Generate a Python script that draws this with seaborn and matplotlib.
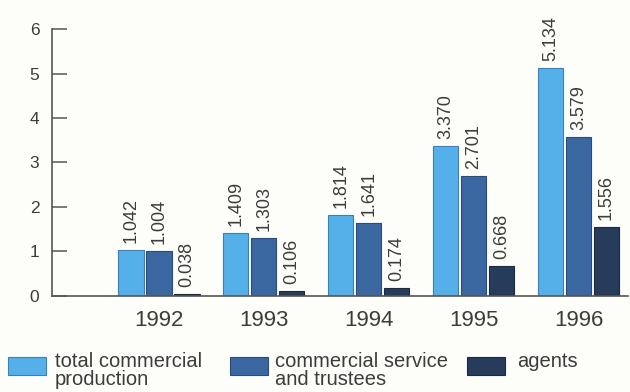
import matplotlib
matplotlib.use("Agg")
import matplotlib.pyplot as plt
from matplotlib.patches import Rectangle
import seaborn as sns
import pandas as pd

# Data: commercial production volumes by year
years = ["1992", "1993", "1994", "1995", "1996"]
series_names = ["total commercial\nproduction", "commercial service\nand trustees", "agents"]
total_commercial = [1.042, 1.409, 1.814, 3.370, 5.134]
commercial_service = [1.004, 1.303, 1.641, 2.701, 3.579]
agents = [0.038, 0.106, 0.174, 0.668, 1.556]
y_ticks = [0, 1, 2, 3, 4, 5, 6]

palette = ["#55b0ea", "#3b67a1", "#273b5b"]
edges = ["#3a7fb8", "#2a4c7a", "#1b2a42"]
text_color = "#3c3c3c"
axis_color = "#555555"
bg = "#fdfdfa"

df = pd.DataFrame({
    "year": years * 3,
    "series": [series_names[0]] * 5 + [series_names[1]] * 5 + [series_names[2]] * 5,
    "value": total_commercial + commercial_service + agents,
})

sns.set_theme(style="white")
plt.rcParams["font.family"] = ["Liberation Sans", "DejaVu Sans"]

fig = plt.figure(figsize=(6.3, 3.92), dpi=100, facecolor=bg)
ax = fig.add_axes([0.0825, 0.245, 0.914, 0.681])
ax.set_facecolor(bg)

sns.barplot(data=df, x="year", y="value", hue="series", order=years,
            hue_order=series_names, palette=palette, saturation=1,
            width=0.8, gap=0.1, ax=ax, legend=False)

for cont, ec in zip(ax.containers, edges):
    for bar in cont:
        bar.set_edgecolor(ec)
        bar.set_linewidth(0.8)
    ax.bar_label(cont, labels=[f"{v:.3f}" for v in cont.datavalues],
                 rotation=90, padding=5, fontsize=13, color=text_color)

ax.set_xlim(-1.02, 4.47)
ax.set_ylim(0, 6)
ax.set_yticks(y_ticks)
ax.set_yticklabels([str(t) for t in y_ticks])
ax.set_xlabel("")
ax.set_ylabel("")

for side in ["top", "right"]:
    ax.spines[side].set_visible(False)
for side in ["left", "bottom"]:
    ax.spines[side].set_color(axis_color)
    ax.spines[side].set_linewidth(1.2)

ax.tick_params(axis="y", direction="in", length=11, width=1.1, color=axis_color,
               labelsize=12.5, labelcolor=text_color, pad=9, left=True)
ax.tick_params(axis="x", length=0, labelsize=16, labelcolor=text_color, pad=10)

# Legend row along the bottom edge: swatch aligned with the first label line
W, H = 630.0, 392.0
swatch_x = [8, 230, 467]
label_x = [55, 275, 517]
for sx, lx, name, c, e in zip(swatch_x, label_x, series_names, palette, edges):
    fig.add_artist(Rectangle((sx / W, (H - 375) / H), 38 / W, 18 / H,
                             transform=fig.transFigure, facecolor=c,
                             edgecolor=e, linewidth=0.8))
    fig.text(lx / W, (H - 352) / H, name, fontsize=14.5, color=text_color,
             ha="left", va="top", linespacing=0.95)

fig.savefig("out.png", dpi=100, facecolor=bg)
